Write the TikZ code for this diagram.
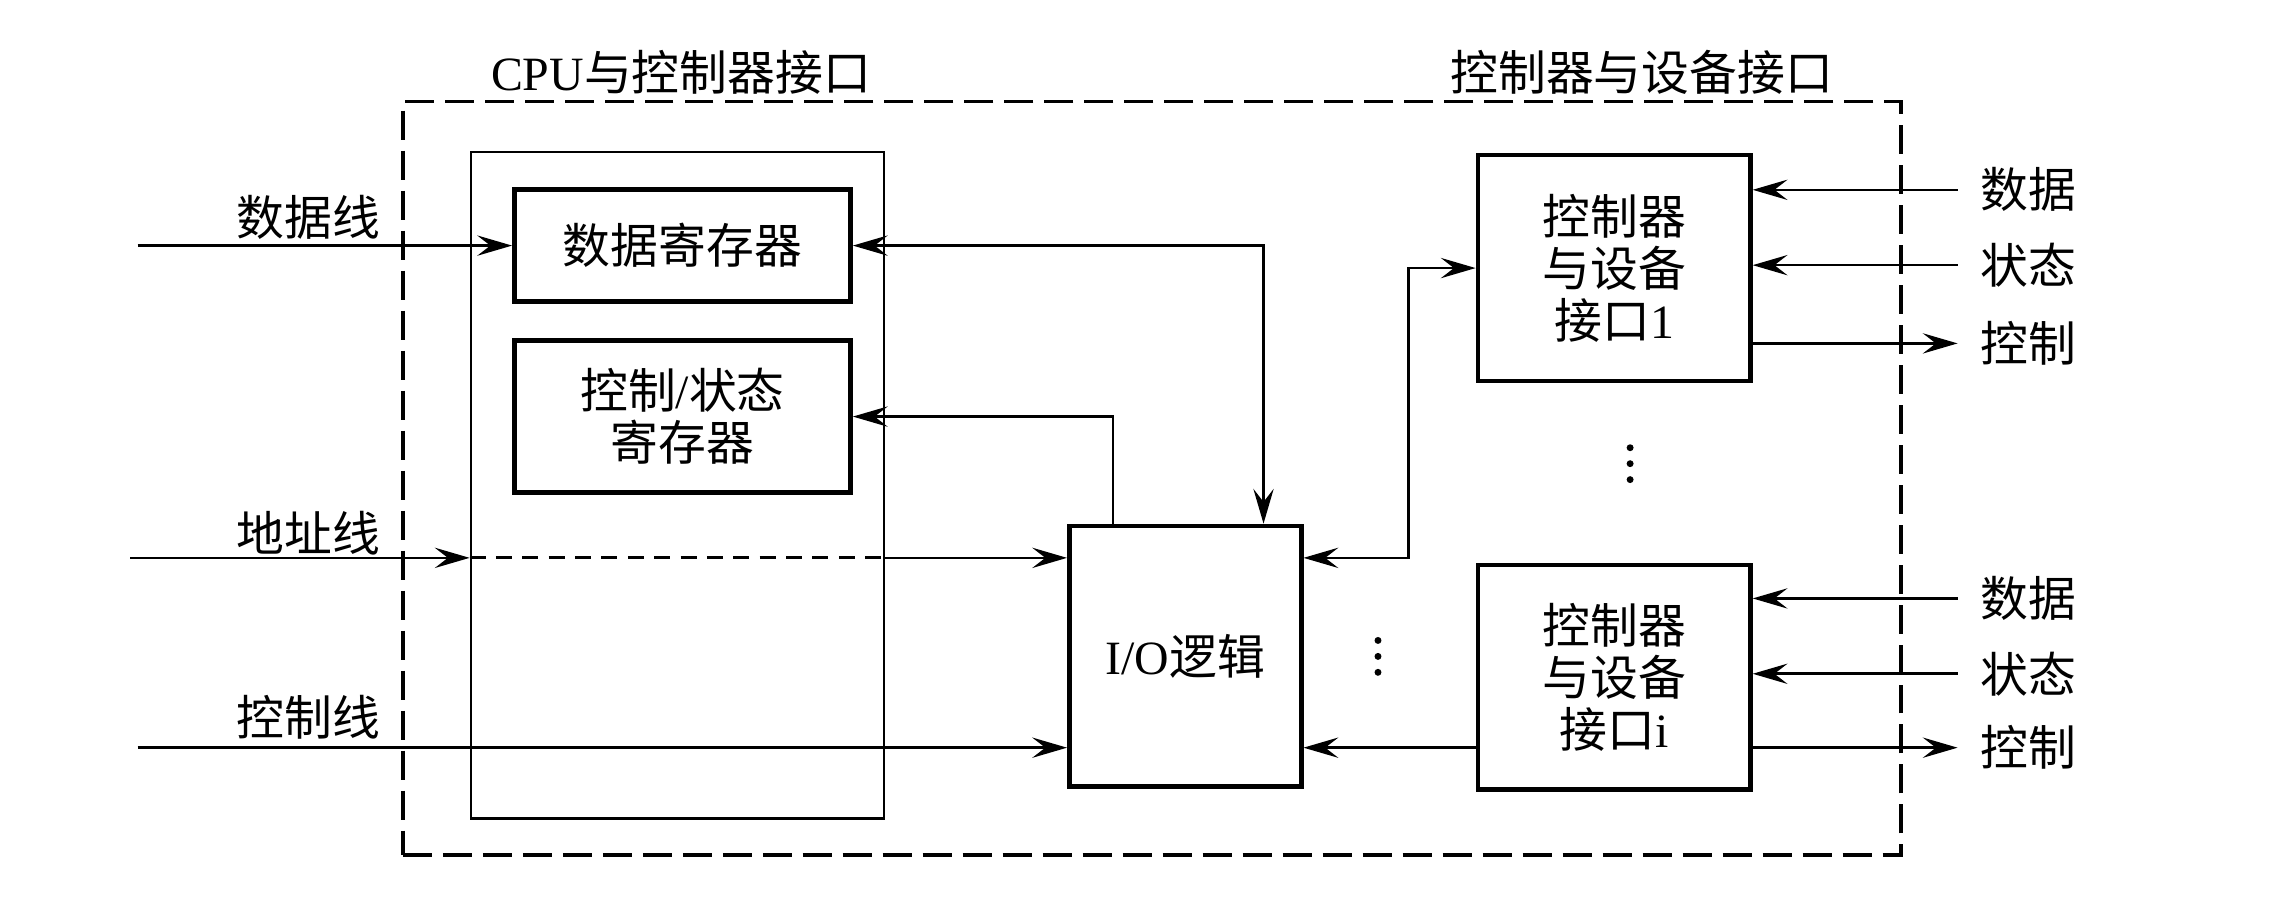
\documentclass[tikz,border=0pt]{standalone}
\usepackage{fontspec}
\setmainfont{Liberation Serif}
\newfontfamily\cjk{Noto Sans CJK SC}
\newfontfamily\lat{Liberation Serif}
\usetikzlibrary{arrows.meta,calc}

\tikzset{
  txt/.style={font=\cjk\fontsize{16.5}{18}\selectfont, inner sep=0pt, align=center},
  regbox/.style={txt, draw, line width=1.6pt},
  wire/.style={line width=0.9pt},
  bus/.style={line width=1.3pt, dash pattern=on 10pt off 3.8pt},
  addr/.style={line width=1.1pt, dash pattern=on 5.5pt off 3.6pt},
  rlabel/.style={txt, outer sep=8pt},
  >={Stealth[length=12pt,width=7pt,inset=4.5pt]}
}

\begin{document}
\begin{tikzpicture}[x=0.5pt,y=-0.5pt]
\useasboundingbox (0,0) rectangle (1568,631);

% enclosing interface boundary and the CPU-side frame
\node[draw, bus, minimum width=517pt, minimum height=260pt] (outer) at (795,330) {};
\node[draw, wire, minimum width=142.5pt, minimum height=230pt] (cpuif) at (467.5,335) {};

% titles
\node[txt] (t1) at (470,50) {{\lat CPU}与控制器接口};
\node[txt] (t2) at (1133,50) {控制器与设备接口};

% registers and logic
\node[regbox, minimum width=116pt, minimum height=38.5pt] (dreg) at (471,169.5) {数据寄存器};
\node[regbox, minimum width=116pt, minimum height=52.5pt] (creg) at (471,287.5) {控制{\lat /}状态\\寄存器};
\node[regbox, minimum width=80pt, minimum height=90pt] (io) at (818,453) {{\lat I/O}逻辑};
\node[regbox, minimum width=94pt, minimum height=78pt] (dev1) at (1114,185) {控制器\\与设备\\接口{\lat 1}};
\node[regbox, minimum width=94pt, minimum height=77.5pt] (devi) at (1114,467.5) {控制器\\与设备\\接口{\lat i}};

% CPU-side bus lines
\node[txt] (ldata) at (213,150) {数据线};
\node[txt] (laddr) at (213,368) {地址线};
\node[txt] (lctrl) at (213,495) {控制线};
\coordinate (dstart) at (95,169.5);
\coordinate (astart) at (90,385);
\coordinate (cstart) at (95,516);

\draw[wire,->] (dstart) -- (dreg.west);
\draw[wire,->] (astart) -- (astart -| cpuif.west);
\draw[addr] (astart -| cpuif.west) -- (astart -| cpuif.east);
\draw[wire,->] (astart -| cpuif.east) -- (astart -| io.west);
\draw[wire,->] (cstart) -- (cstart -| io.west);

% register <-> I/O logic
\coordinate (iodata) at ($(io.north)+(54,0)$);
\coordinate (ioctrl) at ($(io.north)+(-50,0)$);
\draw[wire,<->] (dreg.east) -| (iodata);
\draw[wire,->] (ioctrl) |- (creg.east);

% I/O logic <-> device interfaces
\coordinate (bend) at (972,385);
\draw[wire,<->] (dev1.west) -| (bend) -- (bend -| io.east);
\coordinate (iret) at (1020,516);
\draw[wire,->] (iret) -- (iret -| io.east);

% device-side signals
\node[rlabel] (d1) at (1400,131) {数据};
\node[rlabel] (s1) at (1400,183) {状态};
\node[rlabel] (c1) at (1400,237) {控制};
\node[rlabel] (d2) at (1400,413) {数据};
\node[rlabel] (s2) at (1400,465) {状态};
\node[rlabel] (c2) at (1400,516) {控制};
\draw[wire,->] (d1.west) -- (d1.west -| dev1.east);
\draw[wire,->] (s1.west) -- (s1.west -| dev1.east);
\draw[wire,->] (c1.west -| dev1.east) -- (c1.west);
\draw[wire,->] (d2.west) -- (d2.west -| devi.east);
\draw[wire,->] (s2.west) -- (s2.west -| devi.east);
\draw[wire,->] (c2.west -| devi.east) -- (c2.west);

% ellipses
\foreach \yy in {309,320,331} \fill (1125,\yy) circle (1.2pt);
\foreach \yy in {442,453,464} \fill (951,\yy) circle (1.2pt);
\end{tikzpicture}
\end{document}
